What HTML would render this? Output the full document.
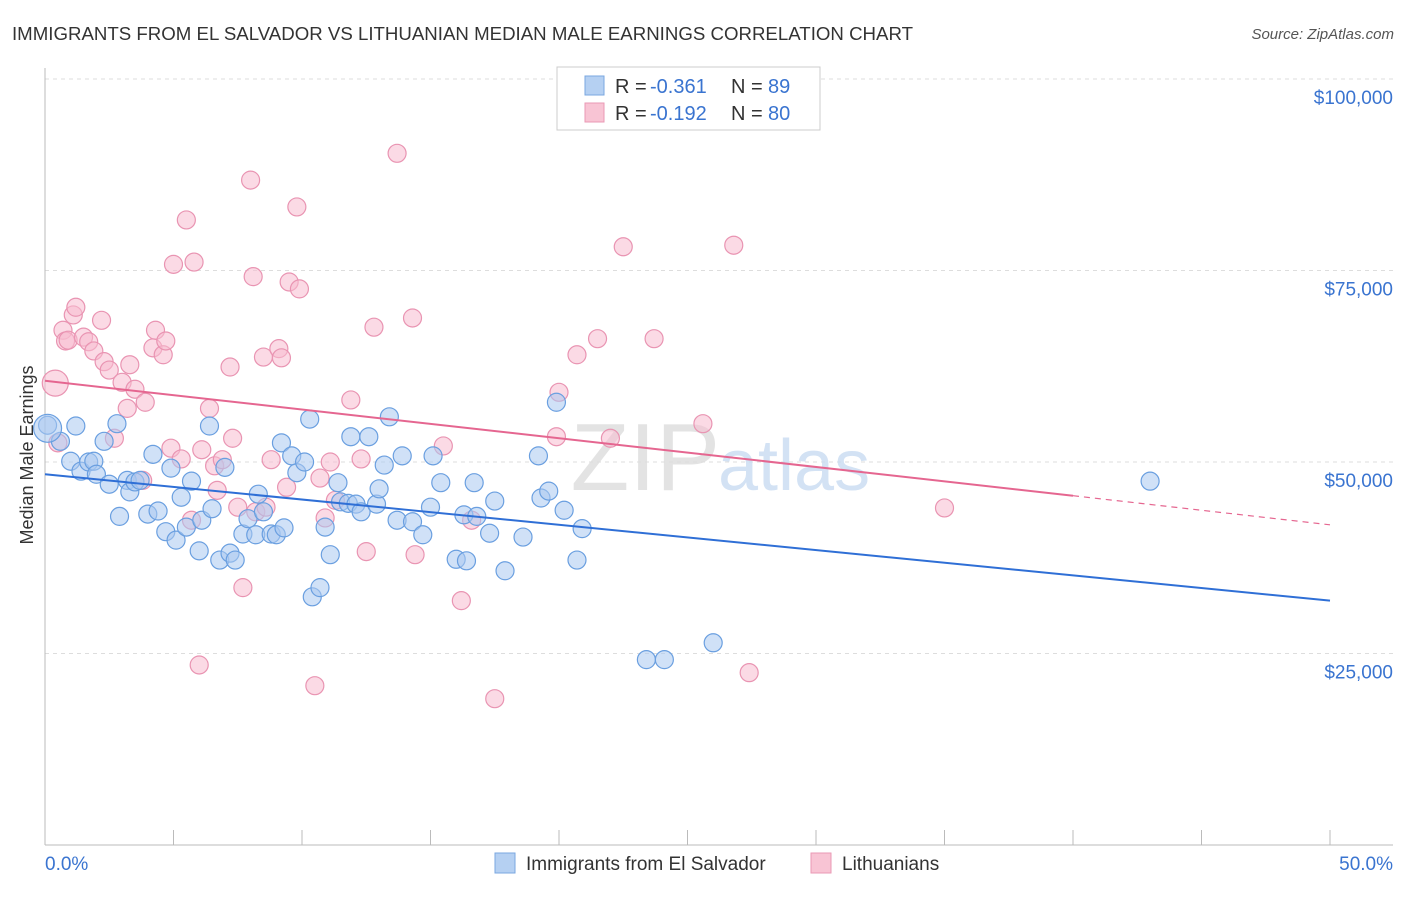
<!DOCTYPE html>
<html><head><meta charset="utf-8"><style>
body{margin:0;background:#fff;font-family:"Liberation Sans",sans-serif;}
svg text{font-family:"Liberation Sans",sans-serif;}
</style></head><body>
<svg id="chart" width="1406" height="892">
<text x="12" y="40" font-size="18" fill="#333" textLength="901" lengthAdjust="spacingAndGlyphs">IMMIGRANTS FROM EL SALVADOR VS LITHUANIAN MEDIAN MALE EARNINGS CORRELATION CHART</text>
<text x="1394" y="39" font-size="15" fill="#555" text-anchor="end" font-style="italic">Source: ZipAtlas.com</text>
<text x="33" y="455" font-size="18" fill="#333" text-anchor="middle" transform="rotate(-90 33 455)">Median Male Earnings</text>
<g id="grid"></g>
<text x="720" y="490" font-size="96" fill="#ddd" text-anchor="end" font-family="Liberation Serif" opacity="0.8">ZIP</text>
<text x="718" y="490" font-size="72" fill="#c9dcf2" opacity="0.8">atlas</text>
<g id="points"></g>
<g id="lines"></g>
<g>
<rect x="557" y="67" width="263" height="63" fill="#fff" stroke="#ccc"/>
<rect x="585" y="76" width="19" height="19" fill="#b5d0f2" stroke="#7aa7e0"/>
<rect x="585" y="103" width="19" height="19" fill="#f8c4d4" stroke="#ea99b4"/>
<text x="615" y="93" font-size="20" fill="#333">R =</text>
<text x="650" y="93" font-size="20" fill="#3a74d0">-0.361</text>
<text x="731" y="93" font-size="20" fill="#333">N =</text>
<text x="768" y="93" font-size="20" fill="#3a74d0">89</text>
<text x="615" y="120" font-size="20" fill="#333">R =</text>
<text x="650" y="120" font-size="20" fill="#3a74d0">-0.192</text>
<text x="731" y="120" font-size="20" fill="#333">N =</text>
<text x="768" y="120" font-size="20" fill="#3a74d0">80</text>
</g>
<g>
<rect x="495" y="853" width="20" height="20" fill="#b5d0f2" stroke="#7aa7e0"/>
<text x="526" y="870" font-size="19" fill="#333">Immigrants from El Salvador</text>
<rect x="811" y="853" width="20" height="20" fill="#f8c4d4" stroke="#ea99b4"/>
<text x="842" y="870" font-size="19" fill="#333">Lithuanians</text>
</g>
</svg>
<script>
const yTicks=[25000,50000,75000,100000];
const yTickLabels=["$25,000","$50,000","$75,000","$100,000"];
const xTickLabels=["0.0%","50.0%"];
const blueX=[0.1,0.6,1.2,1.0,1.4,1.7,1.9,2.0,2.3,2.5,2.8,2.9,3.2,3.3,3.5,3.7,4.0,4.2,4.4,4.7,4.9,5.1,5.3,5.5,5.7,6.0,6.1,6.4,6.5,6.8,7.0,7.2,7.4,7.7,7.9,8.2,8.3,8.5,8.8,9.0,9.2,9.3,9.6,9.8,10.1,10.3,10.4,10.7,10.9,11.1,11.4,11.5,11.8,11.9,12.1,12.3,12.6,12.9,13.0,13.2,13.4,13.7,13.9,14.3,14.7,15.0,15.1,15.4,16.0,16.3,16.4,16.7,16.8,17.3,17.5,17.9,18.6,19.2,19.3,19.6,19.9,20.2,20.7,20.9,23.4,24.1,26.0,43.0];
const blueY=[54.8,52.7,54.7,50.1,48.8,50.0,50.1,48.4,52.7,47.1,55.0,42.9,47.6,46.1,47.4,47.6,43.2,51.0,43.6,40.9,49.2,39.8,45.4,41.5,47.5,38.4,42.4,54.7,43.9,37.2,49.3,38.1,37.2,40.6,42.6,40.5,45.8,43.5,40.6,40.5,52.5,41.4,50.8,48.6,50.0,55.6,32.4,33.6,41.5,37.9,47.3,44.8,44.6,53.3,44.5,43.5,53.3,44.5,46.5,49.6,55.9,42.4,50.8,42.2,40.5,44.1,50.8,47.3,37.3,43.1,37.1,47.3,42.9,40.7,44.9,35.8,40.2,50.8,45.3,46.2,57.8,43.7,37.2,41.3,24.2,24.2,26.4,47.5];
const pinkX=[0.5,0.7,0.8,0.9,1.1,1.2,1.5,1.7,1.9,2.2,2.3,2.5,2.7,3.0,3.2,3.3,3.5,3.9,3.8,4.2,4.3,4.6,4.7,4.9,5.0,5.3,5.5,5.7,5.8,6.0,6.1,6.4,6.6,6.7,6.9,7.2,7.3,7.5,7.7,8.0,8.1,8.2,8.5,8.6,8.8,9.1,9.2,9.4,9.5,9.8,9.9,10.5,10.7,10.9,11.1,11.3,11.9,12.3,12.5,12.8,13.7,14.3,14.4,15.5,16.2,16.6,17.5,19.9,20.0,20.7,21.5,22.0,22.5,23.7,25.6,26.8,27.4,35.0];
const pinkY=[52.5,67.2,65.8,65.9,69.2,70.2,66.3,65.7,64.5,68.5,63.1,62.0,53.1,60.4,57.0,62.7,59.5,57.8,47.6,64.9,67.2,64.0,65.8,51.8,75.8,50.4,81.6,42.4,76.1,23.5,51.6,57.0,49.5,46.3,50.3,62.4,53.1,44.1,33.6,86.8,74.2,43.5,63.7,44.1,50.3,64.8,63.6,46.7,73.5,83.3,72.6,20.8,47.9,42.7,50.0,45.0,58.1,50.4,38.3,67.6,90.3,68.8,37.9,52.1,31.9,42.4,19.1,53.3,59.1,64.0,66.1,53.1,78.1,66.1,55.0,78.3,22.5,44.0];
const blueBig=[0.1,54.4];
const pinkBig=[0.4,60.3];
const blueTrend=[0,48.4,50,31.9];
const pinkTrend=[0,60.6,40,45.6,50,41.8];
const X=p=>45+p*25.7;
const Y=k=>845-k*7.66;
const NS="http://www.w3.org/2000/svg";
function mk(tag,attrs,parent){const e=document.createElementNS(NS,tag);for(const k in attrs)e.setAttribute(k,attrs[k]);parent.appendChild(e);return e;}
const grid=document.getElementById('grid');
yTicks.forEach((t,i)=>{
 const y=Y(t/1000);
 const l=mk('line',{x1:45,x2:1393,y1:y,y2:y,stroke:'#ddd','stroke-dasharray':'4,4'},grid);
 
 
 const tx=mk('text',{x:1393,y:y+25,'font-size':19,fill:'#3a74d0','text-anchor':'end'},grid);
 tx.textContent=yTickLabels[i];
 
 
});
const ax=mk('line',{x1:45,x2:1393,y1:845,y2:845,stroke:'#bbb'},grid);


const ay=mk('line',{x1:45,x2:45,y1:68,y2:845,stroke:'#bbb'},grid);


for(let i=0;i<=10;i++){
 const t=mk('line',{x1:X(i*5),x2:X(i*5),y1:830,y2:845,stroke:'#bbb'},grid);
 
 
}
[[0,'start',45],[50,'end',1393]].forEach((d,i)=>{
 const t=mk('text',{x:d[2],y:870,'font-size':19,fill:'#3a74d0','text-anchor':d[1]},grid);
 t.textContent=xTickLabels[i];
 
 
});
const pts=document.getElementById('points');
function dot(x,y,r,fill,stroke,name){
 const c=mk('circle',{cx:X(x),cy:Y(y),r:r,fill:fill,'fill-opacity':0.55,stroke:stroke,'stroke-width':1.2},pts);
 
 
}
pinkX.forEach((x,i)=>dot(x,pinkY[i],9,'#f8bcd0','#e994b2','lithuanian-point'));
dot(pinkBig[0],pinkBig[1],13,'#f8bcd0','#e994b2','lithuanian-point');
blueX.forEach((x,i)=>dot(x,blueY[i],9,'#a9c8f0','#6a9fe0','el-salvador-point'));
dot(blueBig[0],blueBig[1],14,'#a9c8f0','#6a9fe0','el-salvador-point');
const lines=document.getElementById('lines');
const bl=mk('line',{x1:X(blueTrend[0]),y1:Y(blueTrend[1]),x2:X(blueTrend[2]),y2:Y(blueTrend[3]),stroke:'#2f6fd6','stroke-width':2},lines);


const pl=mk('line',{x1:X(pinkTrend[0]),y1:Y(pinkTrend[1]),x2:X(pinkTrend[2]),y2:Y(pinkTrend[3]),stroke:'#e56690','stroke-width':2},lines);


const pd=mk('line',{x1:X(pinkTrend[2]),y1:Y(pinkTrend[3]),x2:X(pinkTrend[4]),y2:Y(pinkTrend[5]),stroke:'#e56690','stroke-width':1.2,'stroke-dasharray':'6,5'},lines);


</script>
</body></html>
